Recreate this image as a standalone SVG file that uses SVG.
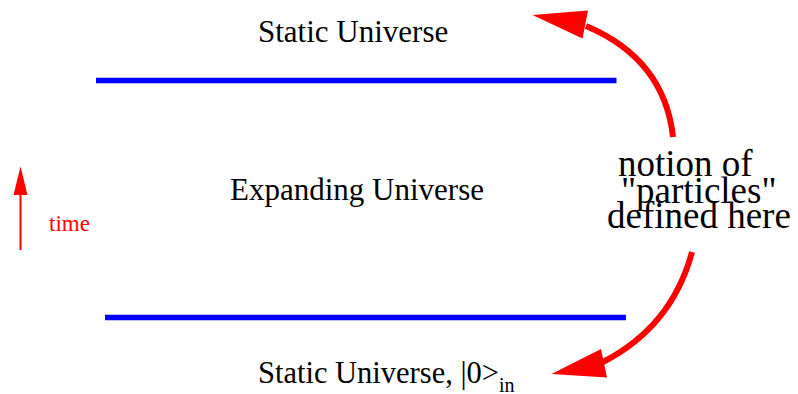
<svg xmlns="http://www.w3.org/2000/svg" width="798" height="394" viewBox="0 0 798 394">
<style>
.blue{stroke:#0000ff;stroke-width:5.5;fill:none}
.red{stroke:#ff0000;stroke-width:6;fill:none}
.head{fill:#ff0000;stroke:none}
</style>
<rect width="798" height="394" fill="#fff"/>
<g font-family="'Liberation Serif', 'Times New Roman', serif" fill="#000">
<g id="static-top">
<text x="258" y="42" font-size="31">Static Universe</text>
</g>
<g id="expanding">
<text x="230" y="200" font-size="31">Expanding Universe</text>
</g>
<g id="static-bottom">
<text x="258" y="383" font-size="30.5">Static Universe, |0&gt;<tspan font-size="20" dy="9">in</tspan></text>
</g>
<g id="time">
<line x1="20.5" y1="250" x2="20.5" y2="190" stroke="#ff0000" stroke-width="2"/>
<polygon class="head" points="20.5,166.5 13.5,195 27.5,195"/>
<text x="49" y="231" font-size="23" fill="#ff0000">time</text>
</g>
<g id="note">
<text x="618" y="176" font-size="37">notion of</text>
<text x="621" y="203" font-size="37">"particles"</text>
<text x="607" y="228" font-size="37">defined here</text>
</g>
</g>
<g id="connectors">
<line class="blue" x1="96" y1="80.5" x2="616.5" y2="80.5"/>
<line class="blue" x1="105" y1="317.5" x2="626" y2="317.5"/>
<path class="red" d="M673,137 Q664.4,59 586,26"/>
<polygon class="head" points="532.5,15 588,10.5 582.5,38.5"/>
<path class="red" d="M692,252 Q672,326.5 603,362"/>
<polygon class="head" points="551.5,374 601,349 607,377.5"/>
</g>
</svg>
